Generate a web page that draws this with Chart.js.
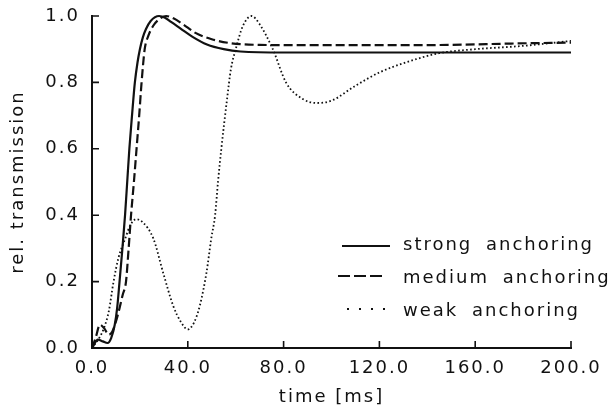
<!DOCTYPE html>
<html>
<head>
<meta charset="utf-8">
<script src="https://cdn.jsdelivr.net/npm/chart.js@4.4.1/dist/chart.umd.min.js"></script>
<style>
  html, body { margin: 0; padding: 0; background: #fff; }
  #wrap { width: 612px; height: 412px; }
</style>
</head>
<body>
<div id="wrap"><canvas id="chart"></canvas></div>
<script>
// time [ms] / rel. transmission
const strongT = [0, 2.5, 4.5, 6.5, 8, 9.5, 10.5, 11.5, 12.7, 13.8, 14.7, 15.6, 16.7, 17.9, 19, 20, 21.2, 22.5, 24.5, 28, 30.5, 33, 37, 42, 48, 55, 62, 80, 110, 150, 200];
const strongY = [0, 0.025, 0.02, 0.015, 0.03, 0.07, 0.12, 0.2, 0.3, 0.4, 0.5, 0.6, 0.7, 0.8, 0.86, 0.9, 0.935, 0.96, 0.985, 1.0, 0.995, 0.982, 0.962, 0.937, 0.914, 0.9, 0.893, 0.89, 0.89, 0.89, 0.89];

const mediumT = [0, 1.5, 3.3, 5, 7, 8.5, 10, 11.5, 12.8, 14.2, 15.3, 16.3, 17.5, 18.6, 19.7, 20.7, 22, 23.5, 25.5, 28, 31, 34, 38, 43, 50, 58, 70, 90, 120, 150, 175, 200];
const mediumY = [0, 0.03, 0.07, 0.06, 0.04, 0.05, 0.08, 0.12, 0.16, 0.2, 0.3, 0.4, 0.5, 0.6, 0.7, 0.8, 0.9, 0.94, 0.97, 0.99, 1.0, 0.993, 0.975, 0.95, 0.93, 0.918, 0.913, 0.912, 0.912, 0.913, 0.917, 0.92];

const weakT = [0, 3, 5, 7, 9, 11, 13.9, 16, 18.5, 21, 25.6, 29.7, 33.9, 37, 40, 42.5, 45, 47.8, 49.8, 51.4, 52.6, 54, 56.4, 58, 60, 63, 66.6, 70, 75.5, 81, 88, 94, 100, 110, 120, 131, 145, 160, 180, 200];
const weakY = [0, 0.03, 0.06, 0.11, 0.2, 0.27, 0.33, 0.37, 0.388, 0.38, 0.33, 0.227, 0.127, 0.08, 0.056, 0.075, 0.127, 0.227, 0.33, 0.4, 0.5, 0.6, 0.75, 0.84, 0.9, 0.97, 1.0, 0.975, 0.9, 0.8, 0.75, 0.738, 0.745, 0.79, 0.83, 0.86, 0.888, 0.9, 0.91, 0.925];

const labels = ['strong anchoring', 'medium anchoring', 'weak anchoring'];
const xTicks = [0, 40, 80, 120, 160, 200];
const yTicks = [0, 0.2, 0.4, 0.6, 0.8, 1.0];

const ink = '#111';
const font = { family: '"DejaVu Sans", sans-serif', size: 18 };
const spacing = '2px';

const toPoints = (ts, ys) => ts.map((t, i) => ({ x: t, y: ys[i] }));

// the scanned lettering is widely spaced, canvas letterSpacing gets close
const spaced = {
  id: 'spaced',
  beforeLayout(chart) { chart.ctx.letterSpacing = spacing; },
  beforeDraw(chart) { chart.ctx.letterSpacing = spacing; }
};

// tick marks point into the plot
const inwardTicks = {
  id: 'inwardTicks',
  afterDraw(chart) {
    const { ctx, chartArea, scales } = chart;
    ctx.save();
    ctx.strokeStyle = ink;
    ctx.lineWidth = 1.6;
    ctx.beginPath();
    yTicks.forEach(v => {
      const y = scales.y.getPixelForValue(v);
      ctx.moveTo(chartArea.left, y);
      ctx.lineTo(chartArea.left + 7, y);
    });
    xTicks.forEach(v => {
      const x = scales.x.getPixelForValue(v);
      ctx.moveTo(x, chartArea.bottom);
      ctx.lineTo(x, chartArea.bottom - 7);
    });
    ctx.stroke();
    ctx.restore();
  }
};

// legend sits inside the plot, lower right
const legendRows = [
  { dash: [], from: 61, to: 13, lift: 0 },
  { dash: [12, 4], from: 65, to: 18, lift: 3 },
  { dash: [2, 10], from: 56, to: 15, lift: 3 }
];
const insideLegend = {
  id: 'insideLegend',
  afterDraw(chart) {
    const { ctx, chartArea } = chart;
    const textX = chartArea.right - 168;
    ctx.save();
    ctx.font = '18px "DejaVu Sans"';
    ctx.letterSpacing = spacing;
    ctx.wordSpacing = '6px';
    ctx.textBaseline = 'middle';
    ctx.fillStyle = ink;
    chart.data.datasets.forEach((ds, i) => {
      const row = legendRows[i];
      const y = chartArea.bottom - 102 + i * 33;
      ctx.beginPath();
      ctx.strokeStyle = ink;
      ctx.lineWidth = 2;
      ctx.setLineDash(row.dash);
      ctx.moveTo(textX - row.from, y - row.lift);
      ctx.lineTo(textX - row.to, y - row.lift);
      ctx.stroke();
      ctx.fillText(ds.label, textX, y - 1);
    });
    ctx.restore();
  }
};

new Chart(document.getElementById('chart'), {
  type: 'line',
  data: {
    datasets: [
      { label: labels[0], data: toPoints(strongT, strongY), borderWidth: 2.2 },
      { label: labels[1], data: toPoints(mediumT, mediumY), borderWidth: 2.2, borderDash: [9, 4] },
      { label: labels[2], data: toPoints(weakT, weakY), borderWidth: 1.8, borderDash: [1.6, 2.4] }
    ].map(ds => Object.assign(ds, {
      borderColor: ink,
      pointRadius: 0,
      fill: false,
      cubicInterpolationMode: 'monotone',
      clip: 5
    }))
  },
  options: {
    responsive: true,
    maintainAspectRatio: false,
    animation: false,
    devicePixelRatio: 1,
    layout: { padding: { top: 16, right: 41, left: 0, bottom: 0 } },
    plugins: { legend: { display: false }, tooltip: { enabled: false } },
    scales: {
      x: {
        type: 'linear', min: 0, max: 200,
        afterBuildTicks: s => { s.ticks = xTicks.map(v => ({ value: v })); },
        afterFit: s => { s.height = 64; s.paddingLeft = 0; s.paddingRight = 0; },
        grid: { display: false, drawTicks: false },
        border: { display: true, color: ink, width: 2 },
        ticks: { padding: 10, color: ink, font, maxRotation: 0, autoSkip: false, callback: v => v.toFixed(1) },
        title: { display: true, text: 'time [ms]', color: ink, font, padding: { top: 0, bottom: 4 } }
      },
      y: {
        type: 'linear', min: 0, max: 1,
        afterBuildTicks: s => { s.ticks = yTicks.map(v => ({ value: v })); },
        afterFit: s => { s.width = 92; s.paddingTop = 0; s.paddingBottom = 0; },
        grid: { display: false, drawTicks: false },
        border: { display: true, color: ink, width: 2 },
        ticks: { padding: 12, color: ink, font, autoSkip: false, callback: v => v.toFixed(1) },
        title: { display: true, text: 'rel. transmission', color: ink, font, padding: { top: 8, bottom: 0 } }
      }
    }
  },
  plugins: [spaced, inwardTicks, insideLegend]
});
</script>
</body>
</html>
